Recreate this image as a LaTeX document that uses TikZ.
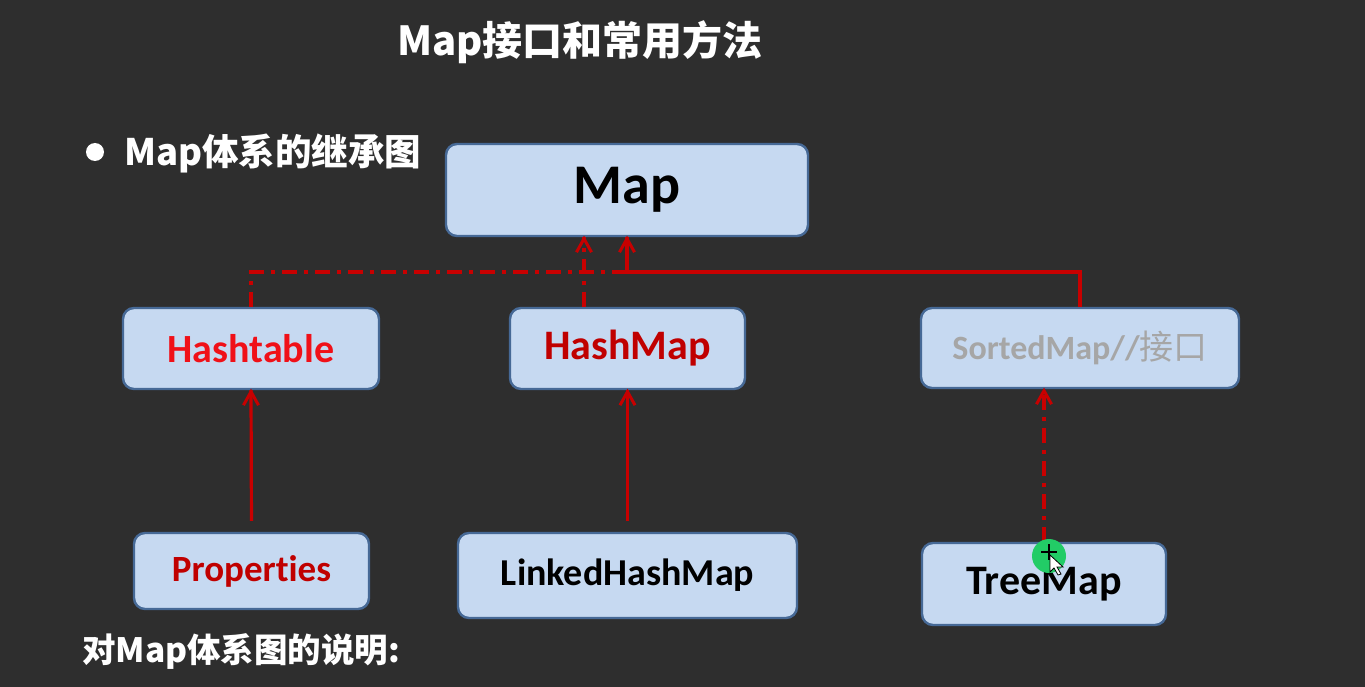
\documentclass[tikz,border=0pt]{standalone}
\usepackage{fontspec}
\setmainfont{Carlito}[Ligatures=NoCommon]
\newfontfamily\cjk{Noto Sans CJK SC}
\definecolor{bg}{RGB}{46,46,46}
\definecolor{boxfill}{RGB}{198,217,241}
\definecolor{boxline}{RGB}{70,105,150}
\definecolor{linered}{RGB}{200,0,0}
\definecolor{brightred}{RGB}{240,16,24}
\definecolor{darkred}{RGB}{192,0,0}
\definecolor{graytxt}{RGB}{166,166,166}
\definecolor{cursorgreen}{RGB}{34,204,102}
\begin{document}
\begin{tikzpicture}[x=1pt,y=-1pt,
  box/.style={draw=boxline, fill=boxfill, line width=2.4pt, rounded corners=11pt, inner sep=0pt},
  conn/.style={draw=linered, line width=3.2pt},
  dd/.style={conn, dash pattern=on 15pt off 7pt on 4pt off 7pt},
  vhead/.pic={\draw[linered, line width=3pt, line join=miter] (-7.5,15) -- (0,1.5) -- (7.5,15);},
  wtxt/.style={text=white, inner sep=0pt}
]
\fill[bg] (0,0) rectangle (1365,687);
\useasboundingbox (0,0) rectangle (1365,687);

% titles
\node[wtxt] (title) at (580,42) {\cjk\bfseries\fontsize{40}{40}\selectfont Map接口和常用方法};
\fill[white] (95,152) circle (9pt);
\node[wtxt, anchor=west] (sub) at (124,153) {\cjk\bfseries\fontsize{36.5}{36.5}\selectfont Map体系的继承图};
\node[wtxt, anchor=west] (note) at (82,651) {\cjk\bfseries\fontsize{33.5}{33.5}\selectfont 对Map体系图的说明:};

% boxes
\node[box, minimum width=362pt, minimum height=92pt] (map) at (627,190)
  {\fontsize{56}{56}\selectfont\bfseries Map};
\node[box, minimum width=256pt, minimum height=81pt] (ht) at (251,348.5)
  {\fontsize{40}{40}\selectfont\bfseries\color{brightred}Hashtable};
\node[box, minimum width=235pt, minimum height=81pt] (hm) at (627.5,348.5)
  {\fontsize{42}{42}\selectfont\bfseries\color{darkred}HashMap};
\node[box, minimum width=318pt, minimum height=80pt] (sm) at (1080,348)
  {\fontsize{34}{34}\selectfont\color{graytxt}\bfseries SortedMap//{\cjk\mdseries 接口}};
\node[box, minimum width=235pt, minimum height=76pt] (pr) at (251.5,571)
  {\fontsize{37}{37}\selectfont\bfseries\color{darkred}Properties};
\node[box, minimum width=339pt, minimum height=85pt] (lhm) at (627.5,575.5)
  {\fontsize{38}{38}\selectfont\bfseries LinkedHashMap};
\node[box, minimum width=244pt, minimum height=82pt] (tm) at (1044,584)
  {\fontsize{42}{42}\selectfont\bfseries TreeMap};

% connectors
\coordinate (j2) at (627,272);
\coordinate (hx) at (584,0);
\draw[dd] (ht.north) |- (j2);
\draw[conn] (sm.north) |- (j2) -- (j2 |- map.south);
\pic at (j2 |- map.south) {vhead};
\draw[dd] (hx |- hm.north) -- (hx |- map.south);
\pic at (hx |- map.south) {vhead};
\draw[conn, shorten <=11pt] (pr.north) -- (ht.south);
\pic at (ht.south) {vhead};
\draw[conn, shorten <=11pt] (lhm.north -| hm.south) -- (hm.south);
\pic at (hm.south) {vhead};
\draw[dd] (tm.north) -- (tm.north |- sm.south);
\pic at (tm.north |- sm.south) {vhead};

% mouse cursor highlight
\fill[cursorgreen] (1049,556) circle (17pt);
\draw[black, line width=1.2pt] (1041,552) -- (1057,552) (1049,544) -- (1049,560);
\filldraw[fill=white, draw=black, line width=0.8pt] (1050,555) -- (1050,572) -- (1054,568) -- (1058,575) -- (1061,574) -- (1057,567) -- (1063,567) -- cycle;
\end{tikzpicture}
\end{document}
